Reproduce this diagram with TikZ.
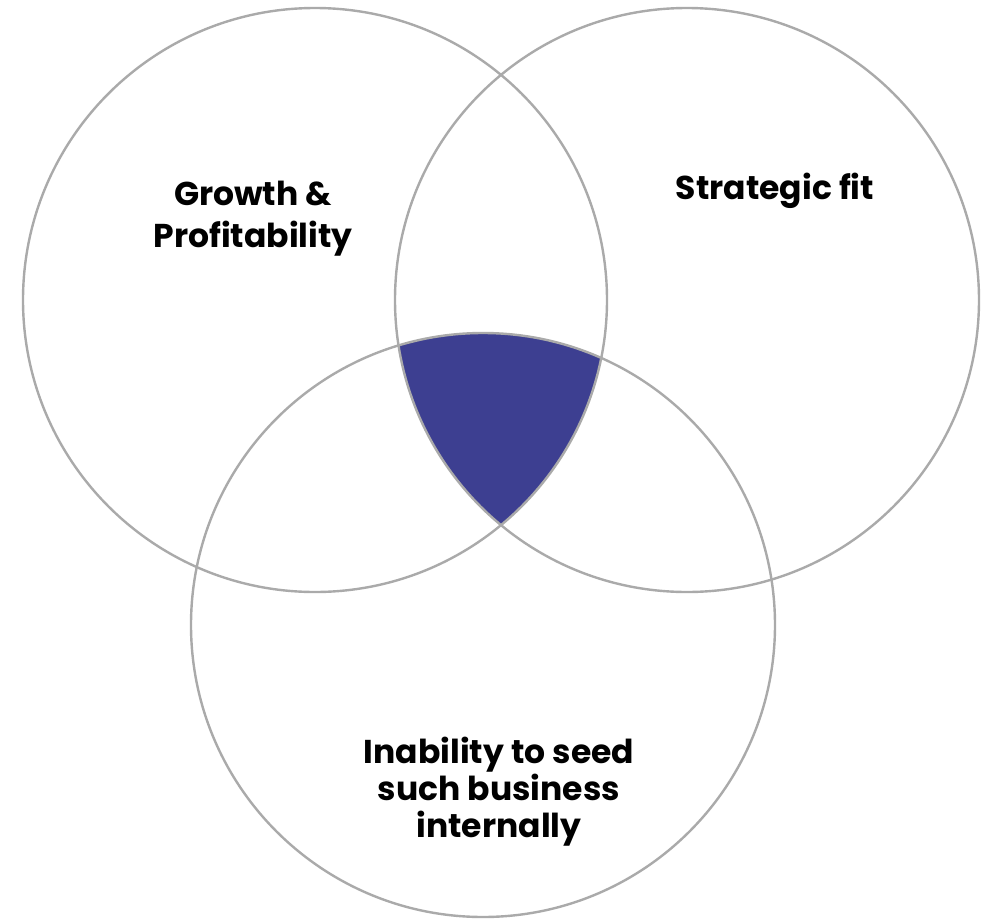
\documentclass[tikz,border=0pt]{standalone}
\usepackage{fontspec}
\setmainfont{Poppins}[BoldFont={* Bold}]
\definecolor{ringgray}{RGB}{170,170,170}
\definecolor{coreblue}{RGB}{61,63,145}
\tikzset{
  ring/.style={draw=ringgray, line width=2.4pt},
  lbl/.style={font=\bfseries\fontsize{33}{41}\selectfont, align=center, inner sep=0pt, anchor=base, text=black}
}
\begin{document}
\begin{tikzpicture}[x=1pt,y=-1pt]
\useasboundingbox (0,0) rectangle (989,919);
\fill[white] (0,0) rectangle (989,919);
\coordinate (c1) at (315,300);
\coordinate (c2) at (687,300);
\coordinate (c3) at (483,625);
\begin{scope}
  \clip (c1) circle[radius=292];
  \clip (c2) circle[radius=292];
  \fill[coreblue] (c3) circle[radius=292];
\end{scope}
\draw[ring] (c1) circle[radius=292];
\draw[ring] (c2) circle[radius=292];
\draw[ring] (c3) circle[radius=292];
\node[lbl] (g1) at (253,205) {Growth \&};
\node[lbl] (g2) at (253,247) {Profitability};
\node[lbl] (s1) at (775,199) {Strategic fit};
\node[lbl] (i1) at (499,763) {Inability to seed};
\node[lbl] (i2) at (499,800) {such business};
\node[lbl] (i3) at (499,837) {internally};
\end{tikzpicture}
\end{document}
